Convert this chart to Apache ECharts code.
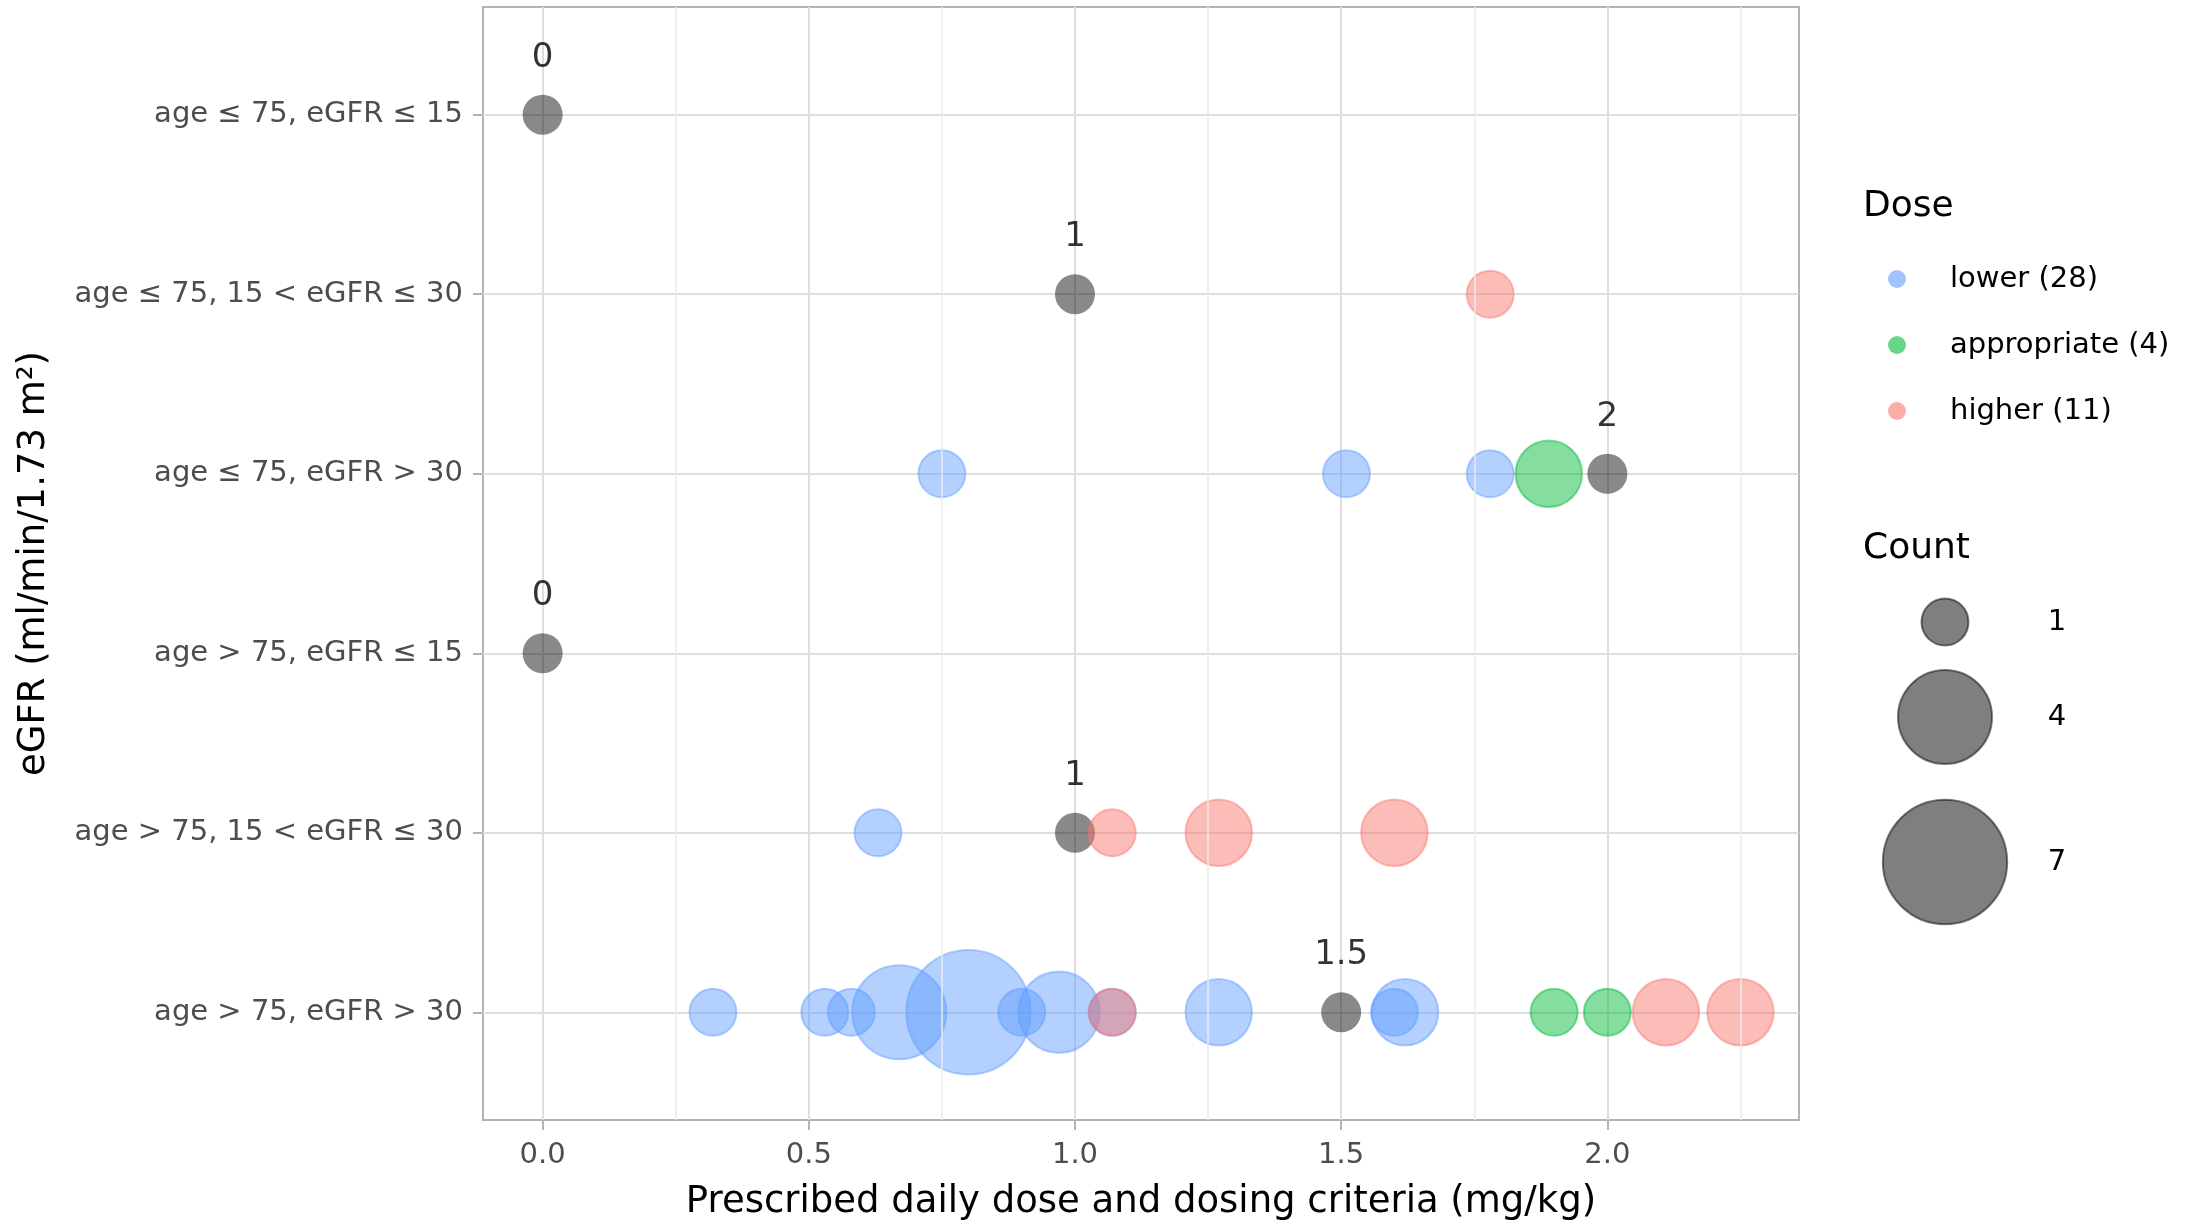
<!DOCTYPE html>
<html>
<head>
<meta charset="utf-8">
<title>Prescribed dose by eGFR group</title>
<script src="https://cdn.jsdelivr.net/npm/echarts@6.0.0/dist/echarts.min.js"></script>
<style>
    html, body { margin: 0; padding: 0; background: #fff; }
    #chart { width: 2200px; height: 1224px; }
</style>
</head>
<body>
<div id="chart"></div>
<script>
const rowLabels = [
    "age ≤ 75, eGFR ≤ 15",
    "age ≤ 75, 15 < eGFR ≤ 30",
    "age ≤ 75, eGFR > 30",
    "age > 75, eGFR ≤ 15",
    "age > 75, 15 < eGFR ≤ 30",
    "age > 75, eGFR > 30",
]
const xTicks = [0, 0.5, 1, 1.5, 2]
const xMinorLines = [0.25, 0.75, 1.25, 1.75, 2.25]

// dosing criteria, one grey point per row
const criteriaDose = [0, 1, 2, 0, 1, 1.5]

// prescribed doses: x value, row index, patient count
const lowerDose  = [0.32, 0.53, 0.58, 0.67, 0.80, 0.90, 0.97, 1.07, 1.27, 1.60, 1.62, 0.63, 0.75, 1.51, 1.78]
const lowerRow   = [5, 5, 5, 5, 5, 5, 5, 5, 5, 5, 5, 4, 2, 2, 2]
const lowerCount = [1, 1, 1, 4, 7, 1, 3, 1, 2, 1, 2, 1, 1, 1, 1]

const apprDose  = [1.89, 1.90, 2.00]
const apprRow   = [2, 5, 5]
const apprCount = [2, 1, 1]

const higherDose  = [1.78, 1.07, 1.27, 1.60, 1.07, 2.11, 2.25]
const higherRow   = [1, 4, 4, 4, 5, 5, 5]
const higherCount = [1, 1, 2, 2, 1, 2, 2]

const doseGroups = ["lower (28)", "appropriate (4)", "higher (11)"]
const doseColors = ["rgba(97,156,255,0.6)", "rgba(0,186,56,0.6)", "rgba(248,118,109,0.6)"]
const countLegend = [1, 4, 7]

const FONT = "DejaVu Sans"
const sizeOf = count => 47 * Math.sqrt(count)
const toPoints = (doses, rows, counts) => doses.map((d, i) => [d, rows[i], counts[i]])

function bubbleSeries(name, points, color) {
    return {
        name: name,
        type: "scatter",
        z: 3,
        data: points,
        symbolSize: val => sizeOf(val[2]),
        // fill and border both translucent -> darker ring like ggplot
        itemStyle: {
            color: color,
            borderColor: color,
            borderWidth: 2,
        },
        emphasis: { disabled: true },
    }
}

// legends are drawn by hand (ggplot style: colour keys + size keys)
function legendGraphics() {
    const items = []
    const text = (str, x, y, size, align) => ({
        type: "text",
        x: x,
        y: y,
        style: {
            text: str,
            font: size + "px '" + FONT + "'",
            fill: "#000",
            align: align || "left",
            verticalAlign: "middle",
        },
    })
    items.push(text("Dose", 1863, 207, 36))
    doseGroups.forEach((label, i) => {
        const y = 279 + i * 66
        items.push({
            type: "circle",
            shape: { cx: 1897, cy: y, r: 9 },
            style: { fill: doseColors[i] },
        })
        items.push(text(label, 1950, y, 29))
    })
    items.push(text("Count", 1863, 549, 36))
    const countY = [622, 717, 862]
    countLegend.forEach((c, i) => {
        items.push({
            type: "circle",
            shape: { cx: 1945, cy: countY[i], r: sizeOf(c) / 2 },
            style: { fill: "rgba(0,0,0,0.5)", stroke: "rgba(0,0,0,0.5)", lineWidth: 2 },
        })
        items.push(text(String(c), 2057, countY[i], 29, "center"))
    })
    return items
}

const chart = echarts.init(document.getElementById("chart"), null, { renderer: "canvas" })

chart.setOption({
    animation: false,
    backgroundColor: "#fff",
    textStyle: { fontFamily: FONT },
    grid: {
        left: 483,
        right: 401,
        top: 7,
        bottom: 104,
        show: true,
        borderColor: "#B3B3B3",
        borderWidth: 2,
        backgroundColor: "transparent",
        outerBoundsMode: "none",
    },
    xAxis: {
        type: "value",
        min: -0.112,
        max: 2.36,
        splitNumber: 5,
        name: "Prescribed daily dose and dosing criteria (mg/kg)",
        nameLocation: "middle",
        nameGap: 64,
        nameTextStyle: { fontSize: 37, color: "#000", fontFamily: FONT },
        axisLine: { show: false, onZero: false },
        axisTick: {
            show: true,
            length: 10,
            customValues: xTicks,
            lineStyle: { color: "#B3B3B3", width: 2 },
        },
        axisLabel: {
            margin: 21,
            fontSize: 29,
            color: "#4D4D4D",
            customValues: xTicks,
            formatter: v => v.toFixed(1),
        },
        splitLine: { show: true, lineStyle: { color: "#DEDEDE", width: 2 } },
    },
    yAxis: {
        type: "value",
        inverse: true,
        min: -0.6,
        max: 5.6,
        name: "eGFR (ml/min/1.73 m²)",
        nameLocation: "middle",
        nameGap: 430,
        nameTextStyle: { fontSize: 37, color: "#000", fontFamily: FONT },
        axisLine: { show: false, onZero: false },
        axisTick: {
            show: true,
            length: 10,
            customValues: rowLabels.map((_, i) => i),
            lineStyle: { color: "#B3B3B3", width: 2 },
        },
        axisLabel: {
            margin: 20,
            fontSize: 29,
            color: "#4D4D4D",
            customValues: rowLabels.map((_, i) => i),
            formatter: v => {
                const i = Math.round(v)
                return Math.abs(v - i) < 1e-6 && rowLabels[i] ? rowLabels[i] : ""
            },
        },
        splitLine: { show: true, lineStyle: { color: "#DEDEDE", width: 2 } },
    },
    series: [
        {
            // minor vertical grid lines
            type: "scatter",
            z: 1,
            data: [],
            silent: true,
            markLine: {
                silent: true,
                symbol: "none",
                label: { show: false },
                lineStyle: { color: "#EBEBEB", width: 1.5, type: "solid" },
                data: xMinorLines.map(x => ({ xAxis: x })),
            },
        },
        {
            name: "criteria",
            type: "scatter",
            z: 2,
            data: criteriaDose.map((d, i) => [d, i]),
            symbolSize: 40,
            itemStyle: { color: "rgba(0,0,0,0.58)" },
            label: {
                show: true,
                position: "top",
                distance: 20,
                color: "#000",
                fontSize: 34,
                fontFamily: FONT,
                formatter: p => String(criteriaDose[p.dataIndex]),
            },
            emphasis: { disabled: true },
        },
        bubbleSeries(doseGroups[0], toPoints(lowerDose, lowerRow, lowerCount), doseColors[0]),
        bubbleSeries(doseGroups[1], toPoints(apprDose, apprRow, apprCount), doseColors[1]),
        bubbleSeries(doseGroups[2], toPoints(higherDose, higherRow, higherCount), doseColors[2]),
    ],
    graphic: legendGraphics(),
})
</script>
</body>
</html>
